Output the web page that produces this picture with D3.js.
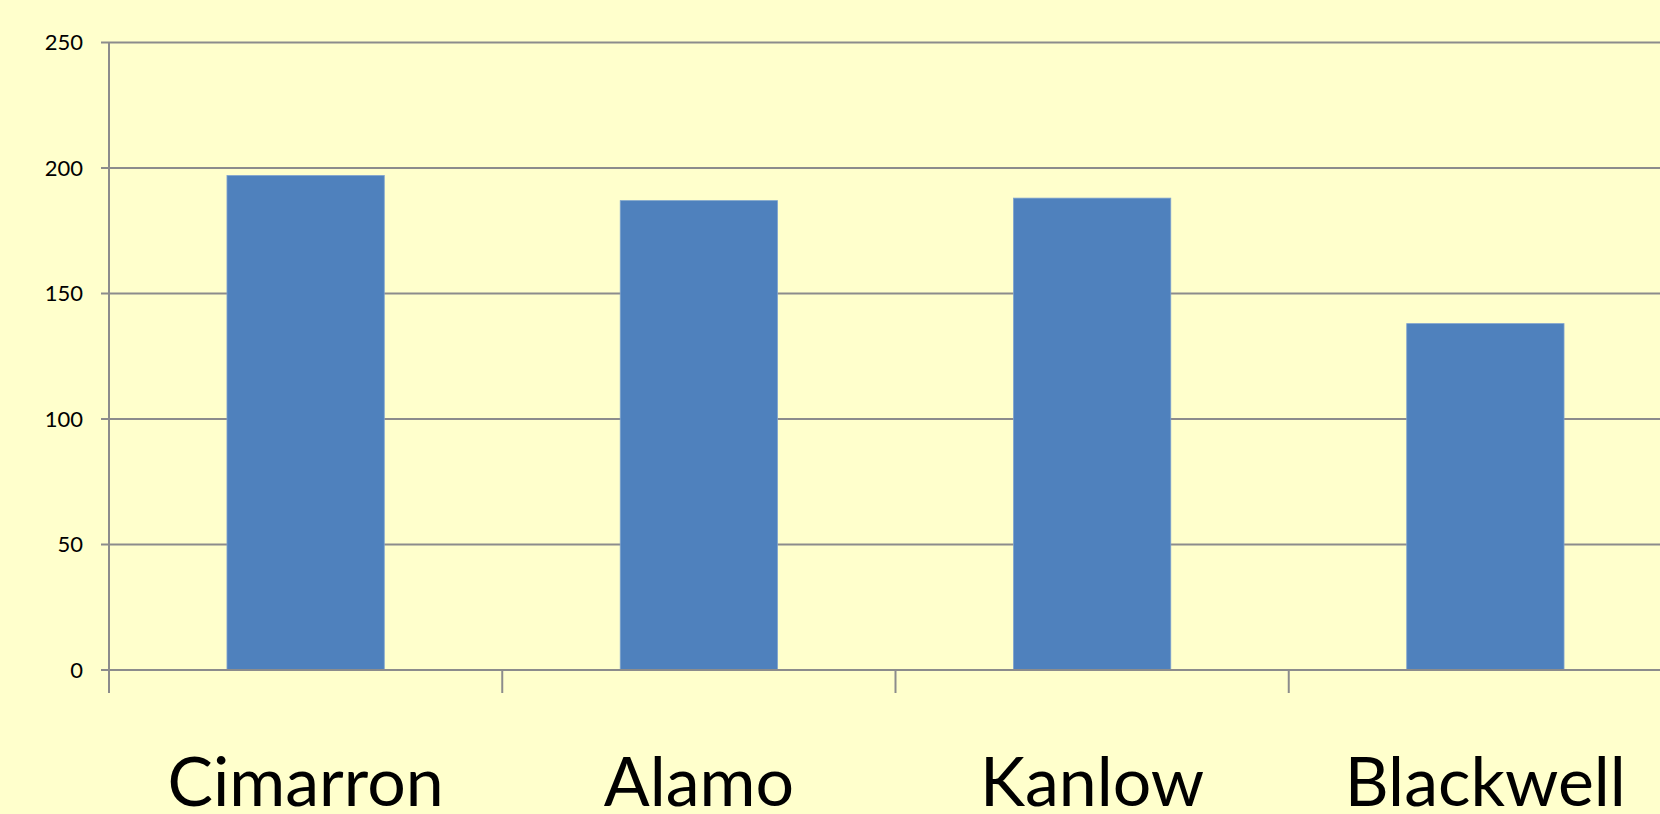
<!DOCTYPE html>
<html>
<head>
<meta charset="utf-8">
<script src="https://cdn.jsdelivr.net/npm/d3@7"></script>
<style>
  html, body { margin: 0; padding: 0; background: #ffffcc; overflow: hidden; }
  svg { display: block; }
</style>
</head>
<body>
<script>
'use strict';

let WIDTH = 1660;
let HEIGHT = 814;

// chart data
let categories = ['Cimarron', 'Alamo', 'Kanlow', 'Blackwell'];
let values = [197, 187, 188, 138];
let yTicks = [0, 50, 100, 150, 200, 250];

// plot area (right side runs past the window, like the original slide)
let plotLeft = 109, plotRight = 1682, plotTop = 42.5, plotBottom = 670;

let x = d3.scaleBand()
    .domain(categories)
    .range([plotLeft, plotRight])
    .paddingInner(0.6)
    .paddingOuter(0.3);

let xStep = d3.scaleBand().domain(categories).range([plotLeft, plotRight]);

let y = d3.scaleLinear().domain([0, 250]).range([plotBottom, plotTop]);

let svg = d3.select('body')
    .append('svg')
    .attr('width', WIDTH)
    .attr('height', HEIGHT);

svg.append('rect')
    .attr('width', WIDTH)
    .attr('height', HEIGHT)
    .attr('fill', '#ffffcc');

// gridlines
svg.append('g')
    .selectAll('line')
    .data(yTicks)
    .enter()
    .append('line')
    .attr('x1', plotLeft - 8)
    .attr('x2', WIDTH)
    .attr('y1', function(d) { return y(d); })
    .attr('y2', function(d) { return y(d); })
    .attr('stroke', '#8c8c8c')
    .attr('stroke-width', 2);

// y labels
svg.append('g')
    .selectAll('text')
    .data(yTicks)
    .enter()
    .append('text')
    .text(function(d) { return d; })
    .attr('x', 83)
    .attr('y', function(d) { return y(d); })
    .attr('dy', '0.36em')
    .attr('text-anchor', 'end')
    .attr('font-family', 'Lato, sans-serif')
    .attr('font-size', 22)
    .attr('fill', '#000');

// bars
svg.append('g')
    .selectAll('rect')
    .data(values)
    .enter()
    .append('rect')
    .attr('x', function(d, i) { return x(categories[i]); })
    .attr('y', function(d) { return y(d); })
    .attr('width', x.bandwidth())
    .attr('height', function(d) { return y(0) - y(d); })
    .attr('fill', '#4f81bd')
    .attr('stroke', '#7fa3cf')
    .attr('stroke-width', 0.8);

// x axis line over bars
svg.append('line')
    .attr('x1', plotLeft)
    .attr('x2', WIDTH)
    .attr('y1', y(0))
    .attr('y2', y(0))
    .attr('stroke', '#8c8c8c')
    .attr('stroke-width', 2);

// y axis line
svg.append('line')
    .attr('x1', plotLeft)
    .attr('x2', plotLeft)
    .attr('y1', plotTop)
    .attr('y2', plotBottom + 23)
    .attr('stroke', '#8c8c8c')
    .attr('stroke-width', 2);

// category tick marks
svg.append('g')
    .selectAll('line')
    .data(categories.slice(1))
    .enter()
    .append('line')
    .attr('x1', function(d) { return xStep(d); })
    .attr('x2', function(d) { return xStep(d); })
    .attr('y1', plotBottom)
    .attr('y2', plotBottom + 23)
    .attr('stroke', '#8c8c8c')
    .attr('stroke-width', 2);

// category labels
svg.append('g')
    .selectAll('text')
    .data(categories)
    .enter()
    .append('text')
    .text(function(d) { return d; })
    .attr('x', function(d) { return x(d) + x.bandwidth() / 2; })
    .attr('y', 806)
    .attr('text-anchor', 'middle')
    .attr('font-family', 'Lato, sans-serif')
    .attr('font-size', 68)
    .attr('fill', '#000');
</script>
</body>
</html>
